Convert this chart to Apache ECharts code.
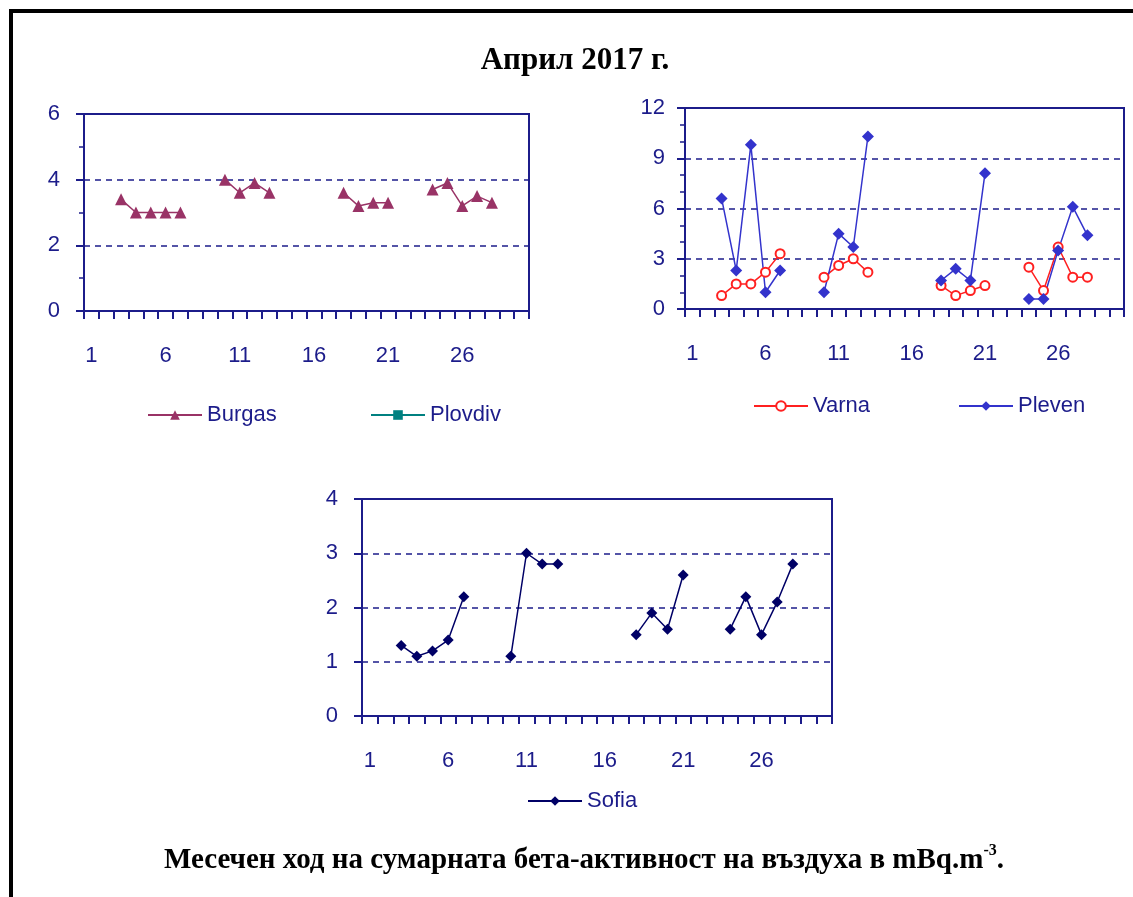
<!DOCTYPE html>
<html>
<head>
<meta charset="utf-8">
<script src="https://cdn.jsdelivr.net/npm/echarts@6/dist/echarts.min.js"></script>
<style>
  html, body { margin: 0; padding: 0; background: #fff; }
  #chart { width: 1133px; height: 897px; }
</style>
</head>
<body>
<div id="chart"></div>
<script>
// Days of April 2017 (category axis)
const days = Array.from({ length: 30 }, (_, i) => String(i + 1));

// Total beta activity, mBq/m3 (null = no measurement)
const burgas  = [null,null,3.4,3.0,3.0,3.0,3.0,null,null,4.0,3.6,3.9,3.6,null,null,null,null,3.6,3.2,3.3,3.3,null,null,3.7,3.9,3.2,3.5,3.3,null,null];
const plovdiv = [null,null,null,null,null,null,null,null,null,null,null,null,null,null,null,null,null,null,null,null,null,null,null,null,null,null,null,null,null,null];
const varna   = [null,null,0.8,1.5,1.5,2.2,3.3,null,null,1.9,2.6,3.0,2.2,null,null,null,null,1.4,0.8,1.1,1.4,null,null,2.5,1.1,3.7,1.9,1.9,null,null];
const pleven  = [null,null,6.6,2.3,9.8,1.0,2.3,null,null,1.0,4.5,3.7,10.3,null,null,null,null,1.7,2.4,1.7,8.1,null,null,0.6,0.6,3.5,6.1,4.4,null,null];
const sofia   = [null,null,1.3,1.1,1.2,1.4,2.2,null,null,1.1,3.0,2.8,2.8,null,null,null,null,1.5,1.9,1.6,2.6,null,null,1.6,2.2,1.5,2.1,2.8,null,null];

const NAVY = '#1c1c8a';
const LABEL_FONT = { fontFamily: 'Liberation Sans, Arial, sans-serif', fontSize: 22, color: NAVY };
const SERIF = 'Liberation Serif, Times New Roman, serif';

function xAxis(gridIndex) {
  return {
    type: 'category', gridIndex, data: days, boundaryGap: true,
    axisLine: { lineStyle: { color: NAVY, width: 2 } },
    axisTick: { show: true, interval: 0, length: 8, lineStyle: { color: NAVY, width: 2 } },
    axisLabel: Object.assign({ interval: 4, margin: 34 }, LABEL_FONT),
    splitLine: { show: false }
  };
}

function yAxis(gridIndex, max, interval, minor, margin) {
  return {
    type: 'value', gridIndex, min: 0, max, interval,
    axisLine: { show: true, lineStyle: { color: NAVY, width: 2 } },
    axisTick: { show: true, length: 8, lineStyle: { color: NAVY, width: 2 } },
    minorTick: { show: minor > 0, splitNumber: minor || 5, length: 5, lineStyle: { color: NAVY, width: 1.5 } },
    axisLabel: Object.assign({ margin }, LABEL_FONT),
    splitLine: { show: true, lineStyle: { color: NAVY, width: 1.5, type: [6, 5] } }
  };
}

function legend(name, left, top) {
  return {
    data: [name], left, top, itemWidth: 54, itemHeight: 12, itemGap: 0,
    textStyle: Object.assign({ padding: [0, 0, 0, 0] }, LABEL_FONT)
  };
}

function lineSeries(name, axis, data, symbol, size, color, extraItem) {
  return {
    name, type: 'line', xAxisIndex: axis, yAxisIndex: axis, data,
    symbol, symbolSize: size, showSymbol: true, showAllSymbol: true, connectNulls: false,
    itemStyle: Object.assign({ color }, extraItem || {}),
    lineStyle: { color, width: 1.5 }
  };
}

const chart = echarts.init(document.getElementById('chart'), null, { renderer: 'canvas' });

chart.setOption({
  animation: false,
  backgroundColor: '#ffffff',
  title: [
    {
      text: 'Април 2017 г.', left: 570, top: 40, textAlign: 'center',
      textStyle: { fontFamily: SERIF, fontSize: 31, fontWeight: 'bold', color: '#000' }
    },
    {
      text: '{t|Месечен ход на сумарната бета-активност на въздуха в mBq.m}{s|-3}{t|.}',
      left: 579, top: 838, textAlign: 'center',
      textStyle: {
        rich: {
          t: { fontFamily: SERIF, fontSize: 29, fontWeight: 'bold', color: '#000', verticalAlign: 'bottom' },
          s: { fontFamily: SERIF, fontSize: 16, fontWeight: 'bold', color: '#000', verticalAlign: 'top', padding: [0, 0, 16, 0] }
        }
      }
    }
  ],
  graphic: [
    { type: 'line', shape: { x1: 11, y1: 11, x2: 11, y2: 897 }, style: { stroke: '#000', lineWidth: 4 } },
    { type: 'line', shape: { x1: 9, y1: 11, x2: 1133, y2: 11 }, style: { stroke: '#000', lineWidth: 4 } }
  ],
  grid: [
    { left: 84, top: 114, width: 445, height: 197, show: true, borderColor: NAVY, borderWidth: 2, backgroundColor: 'transparent' },
    { left: 685, top: 108, width: 439, height: 201, show: true, borderColor: NAVY, borderWidth: 2, backgroundColor: 'transparent' },
    { left: 362, top: 499, width: 470, height: 217, show: true, borderColor: NAVY, borderWidth: 2, backgroundColor: 'transparent' }
  ],
  xAxis: [xAxis(0), xAxis(1), xAxis(2)],
  yAxis: [yAxis(0, 6, 2, 2, 24), yAxis(1, 12, 3, 3, 20), yAxis(2, 4, 1, 0, 24)],
  legend: [
    legend('Burgas', 142, 399),
    legend('Plovdiv', 365, 399),
    legend('Varna', 748, 390),
    legend('Pleven', 953, 390),
    legend('Sofia', 522, 785)
  ],
  series: [
    lineSeries('Burgas', 0, burgas, 'triangle', 12, '#993366'),
    lineSeries('Plovdiv', 0, plovdiv, 'rect', 10, '#008080'),
    lineSeries('Varna', 1, varna, 'emptyCircle', 9, '#ff2020', { borderWidth: 1.5 }),
    lineSeries('Pleven', 1, pleven, 'diamond', 12, '#3333cc'),
    lineSeries('Sofia', 2, sofia, 'diamond', 11, '#000066')
  ]
});
</script>
</body>
</html>
